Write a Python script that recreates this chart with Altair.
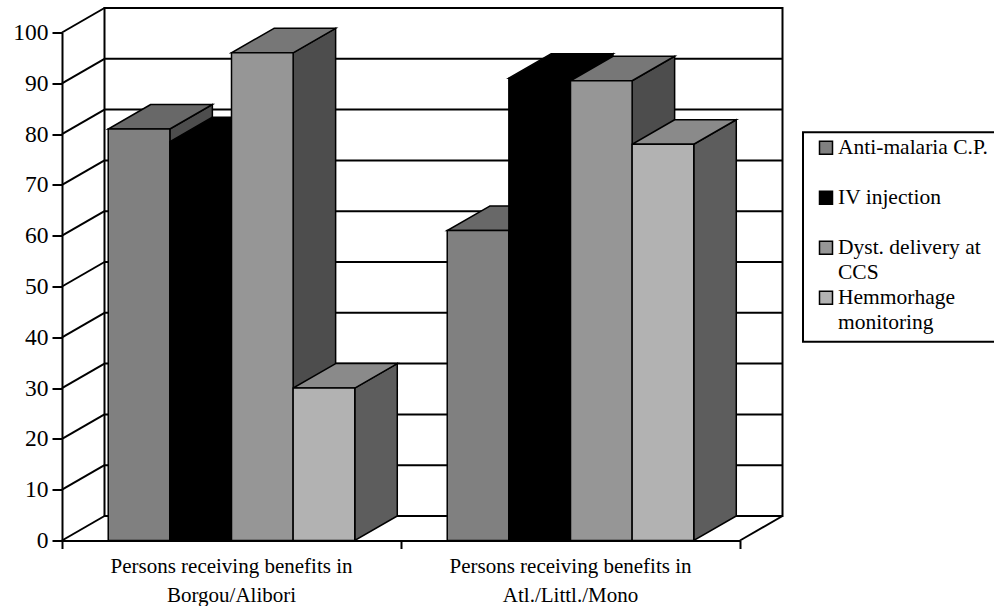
import altair as alt
import pandas as pd

# ---- data -------------------------------------------------------------
regions = [
    "Persons receiving benefits in\nBorgou/Alibori",
    "Persons receiving benefits in\nAtl./Littl./Mono",
]
series = ["Anti-malaria C.P.", "IV injection", "Dyst. delivery at CCS", "Hemmorhage monitoring"]
legend_labels = ["Anti-malaria C.P.", "IV injection", "Dyst. delivery at\nCCS", "Hemmorhage\nmonitoring"]
borgou_alibori = [81, 78.5, 96, 30]
atl_littl_mono = [61, 91, 90.5, 78]
y_ticks = list(range(0, 101, 10))

# ---- styling ----------------------------------------------------------
front_colors = ["#808080", "#000000", "#969696", "#b2b2b2"]
top_colors = ["#686868", "#000000", "#777777", "#8a8a8a"]
side_colors = ["#4d4d4d", "#000000", "#4d4d4d", "#5d5d5d"]
FONT = "Liberation Serif"

W_PX, H_PX = 678, 508           # plot area (front plane)
PAD_L, PAD_T = 62, 32.5
BAR_W = 1 / 5.5                 # four bars + 150% gap per category
DX = 42.5 / (W_PX / 2)          # depth offset in category units
DY = 24.5 / (H_PX / 100)        # depth offset in value units

xs = alt.Scale(domain=[0, 2], nice=False, zero=False)
ys = alt.Scale(domain=[0, 100], nice=False, zero=False)
xax = alt.Axis(values=[0, 1, 2], labels=False, title=None, grid=False, tickSize=8,
               tickWidth=2, tickColor="black", domainColor="black", domainWidth=2)
yax = alt.Axis(values=y_ticks, title=None, grid=False, tickSize=10, tickWidth=2,
               tickColor="black", domainColor="black", domainWidth=2,
               labelFont=FONT, labelFontSize=23.5, labelColor="black", labelPadding=4)


def X(f):
    return alt.X(f, type="quantitative", scale=xs, axis=xax)


def Y(f):
    return alt.Y(f, type="quantitative", scale=ys, axis=yax)


# ---- 3-D box geometry built from the values ---------------------------
fronts, tops, sides = [], [], []
for ci, vals in enumerate([borgou_alibori, atl_littl_mono]):
    for si, v in enumerate(vals):
        xl = ci + 0.75 * BAR_W + si * BAR_W
        xr = xl + BAR_W
        bid = f"b{ci}{si}"
        fronts.append(dict(bid=bid, xl=xl, xr=xr, v=v, fill=front_colors[si]))
        tops.append(dict(bid=bid, y=v, x=xl, x2=xr, fill=top_colors[si]))
        tops.append(dict(bid=bid, y=v + DY, x=xl + DX, x2=xr + DX, fill=top_colors[si]))
        sides.append(dict(bid=bid, x=xr, y=v, y2=0, fill=side_colors[si]))
        sides.append(dict(bid=bid, x=xr + DX, y=v + DY, y2=DY, fill=side_colors[si]))

fronts, tops, sides = pd.DataFrame(fronts), pd.DataFrame(tops), pd.DataFrame(sides)

wall = pd.DataFrame([dict(x=DX, x2=2 + DX, y=DY, y2=100 + DY)])
grid = pd.DataFrame([dict(x=DX, x2=2 + DX, y=t + DY) for t in y_ticks])
left_wall = pd.DataFrame([dict(x=0, x2=DX, y=t, y2=t + DY) for t in y_ticks])
floor_edge = pd.DataFrame([dict(x=2, x2=2 + DX, y=0, y2=DY)])
cats = pd.DataFrame(dict(xc=[0.5, 1.5], label=regions))

line_style = dict(color="black", strokeWidth=2)

back_wall = alt.Chart(wall).mark_rect(fill="white", stroke="black", strokeWidth=2).encode(
    x=X("x"), x2="x2", y=Y("y"), y2="y2")
grid_lines = alt.Chart(grid).mark_rule(**line_style).encode(x=X("x"), x2="x2", y=Y("y"))
wall_lines = alt.Chart(left_wall).mark_rule(**line_style).encode(
    x=X("x"), x2="x2", y=Y("y"), y2="y2")
floor_lines = alt.Chart(floor_edge).mark_rule(**line_style).encode(
    x=X("x"), x2="x2", y=Y("y"), y2="y2")

side_faces = alt.Chart(sides).mark_area(stroke="black", strokeWidth=1.5, strokeJoin="miter").encode(
    x=X("x"), y=Y("y"), y2="y2", detail="bid:N", fill=alt.Fill("fill:N", scale=None))
top_faces = alt.Chart(tops).mark_area(orient="horizontal", stroke="black", strokeWidth=1.5,
                                      strokeJoin="miter").encode(
    y=Y("y"), x=X("x"), x2="x2", detail="bid:N", fill=alt.Fill("fill:N", scale=None))
front_faces = alt.Chart(fronts).mark_rect(stroke="black", strokeWidth=1.5).encode(
    x=X("xl"), x2="xr", y=Y("v"), y2=alt.datum(0), fill=alt.Fill("fill:N", scale=None))

cat_labels = alt.Chart(cats).mark_text(
    font=FONT, fontSize=21, color="black", align="center", baseline="alphabetic",
    lineBreak="\n", lineHeight=28.7).encode(x=X("xc"), y=alt.value(540.5), text="label:N")

# ---- legend box -------------------------------------------------------
legend_layers = [
    alt.Chart(pd.DataFrame({"k": [0]})).mark_rect(fill="white", stroke="black", strokeWidth=2).encode(
        x=alt.value(803 - PAD_L), x2=alt.value(1010 - PAD_L),
        y=alt.value(132.3 - PAD_T), y2=alt.value(341.7 - PAD_T))
]
for i, (name, lab) in enumerate(zip(series, legend_labels)):
    base_y = 154.3 + 50 * i - PAD_T
    legend_layers.append(
        alt.Chart(pd.DataFrame({"series": [name]})).mark_rect(
            fill=front_colors[i], stroke="black", strokeWidth=1.5).encode(
            x=alt.value(819.5 - PAD_L), x2=alt.value(832.5 - PAD_L),
            y=alt.value(base_y - 13), y2=alt.value(base_y)))
    legend_layers.append(
        alt.Chart(pd.DataFrame({"label": [lab]})).mark_text(
            font=FONT, fontSize=21.5, color="black", align="left", baseline="alphabetic",
            lineBreak="\n", lineHeight=25).encode(
            x=alt.value(838 - PAD_L), y=alt.value(base_y), text="label:N"))

chart = alt.layer(
    back_wall, grid_lines, wall_lines, floor_lines,
    side_faces, top_faces, front_faces, cat_labels, *legend_layers
).properties(
    width=W_PX, height=H_PX,
    padding={"left": PAD_L, "top": PAD_T, "right": 994 - PAD_L - W_PX, "bottom": 606 - PAD_T - H_PX},
    autosize=alt.AutoSizeParams(type="none"),
    background="white",
).configure_view(stroke=None)

chart.save("out.html", embed_options={"renderer": "svg", "actions": False})
